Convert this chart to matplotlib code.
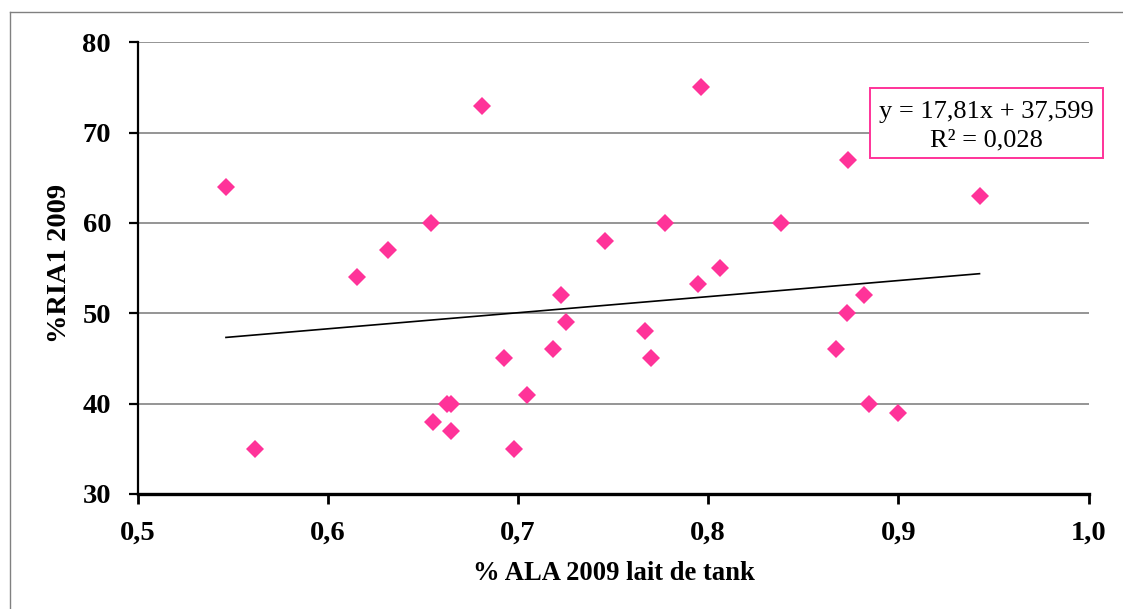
import matplotlib
matplotlib.use("Agg")
import matplotlib.pyplot as plt
from matplotlib.patches import Rectangle
from matplotlib.lines import Line2D
import numpy as np

# ---- data ----
ala = [0.5465, 0.5619, 0.6154, 0.6315, 0.6543, 0.6554, 0.6626, 0.6647, 0.6647,
       0.6813, 0.6929, 0.6978, 0.7050, 0.7186, 0.7228, 0.7251, 0.7458, 0.7670,
       0.7700, 0.7772, 0.7945, 0.7961, 0.8064, 0.8380, 0.8674, 0.8732, 0.8737,
       0.8821, 0.8846, 0.8998, 0.9426]
ria = [64, 35, 54, 57, 60, 38, 40, 40, 37,
       73, 45, 35, 41, 46, 52, 49, 58, 48,
       45, 60, 53.3, 75, 55, 60, 46, 50, 67,
       52, 40, 39, 63]
slope = 17.81
intercept = 37.599
eq_text = "y = 17,81x + 37,599"
r2_text = "R² = 0,028"
xticks = [0.5, 0.6, 0.7, 0.8, 0.9, 1.0]
xtick_labels = ["0,5", "0,6", "0,7", "0,8", "0,9", "1,0"]
yticks = [30, 40, 50, 60, 70, 80]
xlabel = "% ALA 2009 lait de tank"
ylabel = "%RIA1 2009"

W, H = 1123, 609
fig = plt.figure(figsize=(W / 100, H / 100), dpi=100)
serif = ["Liberation Serif", "DejaVu Serif"]

L, R, T, B = 137.5, 1088.7, 42.3, 494.0
ax = fig.add_axes([L / W, 1 - B / H, (R - L) / W, (B - T) / H])
ax.set_xlim(0.5, 1.0)
ax.set_ylim(30, 80)

# gridlines
for yv in yticks[1:]:
    ax.axhline(yv, color="#8c8c8c", lw=1.3, zorder=1)

# points
pink = "#FF3399"
ax.plot(ala, ria, linestyle="none", marker="D", markersize=9.6,
        color=pink, markeredgewidth=0, zorder=3)

# trend line
xs = np.array([min(ala), max(ala)])
ax.plot(xs, slope * xs + intercept, color="black", lw=1.2, zorder=2)

for s in ["top", "right"]:
    ax.spines[s].set_visible(False)
ax.spines["left"].set_linewidth(1.6)
ax.spines["bottom"].set_linewidth(2.4)
ax.spines["bottom"].set_zorder(4)

ax.set_xticks(xticks)
ax.set_xticklabels(xtick_labels)
ax.set_yticks(yticks)
ax.tick_params(axis="both", direction="out", length=6.5, width=1.6, color="black")
ax.tick_params(axis="x", length=7, width=2.0, pad=12)
ax.tick_params(axis="y", pad=12.5)
for lab in ax.get_xticklabels() + ax.get_yticklabels():
    lab.set_fontfamily(serif)
    lab.set_fontweight("bold")
    lab.set_fontsize(20.5)

fig.text(614 / W, 1 - 573 / H, xlabel, ha="center", va="center",
         fontfamily=serif, fontweight="bold", fontsize=19.2)
fig.text(60 / W, 1 - 263 / H, ylabel, ha="center", va="center", rotation=90,
         fontfamily=serif, fontweight="bold", fontsize=20.5)

# equation box
bx0, by0, bx1, by1 = 870, 88.3, 1102.7, 157.7
fig.patches.append(Rectangle((bx0 / W, 1 - by1 / H), (bx1 - bx0) / W, (by1 - by0) / H,
                             transform=fig.transFigure, facecolor="white",
                             edgecolor=pink, lw=1.4, zorder=5))
fig.text(986 / W, 1 - 111.7 / H, eq_text, ha="center", va="center",
         fontfamily=serif, fontsize=19, zorder=6)
fig.text(986 / W, 1 - 140 / H, r2_text, ha="center", va="center",
         fontfamily=serif, fontsize=19, zorder=6)

# outer frame lines (top and left)
fig.lines.append(Line2D([10 / W, 1], [1 - 12 / H, 1 - 12 / H], transform=fig.transFigure,
                        color="#808080", lw=1.0))
fig.lines.append(Line2D([10 / W, 10 / W], [0, 1 - 12 / H], transform=fig.transFigure,
                        color="#808080", lw=1.0))

fig.savefig("out.png", dpi=100)
